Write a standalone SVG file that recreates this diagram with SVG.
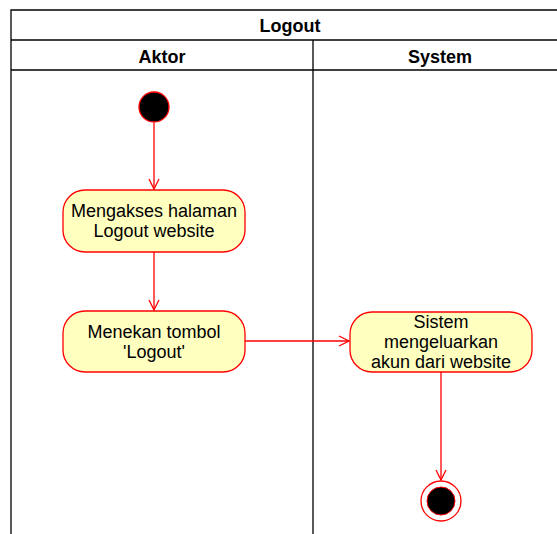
<svg xmlns="http://www.w3.org/2000/svg" width="557" height="534" viewBox="0 0 557 534">
  <style>
    .lane { fill: none; stroke: #000; stroke-width: 1.3; }
    .hdr { font-family: "Liberation Sans", Arial, sans-serif; font-size: 18px; font-weight: bold; fill: #000; text-anchor: middle; }
    .act { fill: #ffffc0; stroke: #ff0000; stroke-width: 1.3; }
    .lbl { font-family: "Liberation Sans", Arial, sans-serif; font-size: 18px; fill: #000; text-anchor: middle; }
    .flow { fill: none; stroke: #ff0000; stroke-width: 1.3; }
  </style>
  <defs>
    <marker id="arrow" viewBox="0 0 12 12" refX="11" refY="6" markerWidth="12" markerHeight="12" markerUnits="userSpaceOnUse" orient="auto">
      <path d="M1,1 L11,6 L1,11" fill="none" stroke="#ff0000" stroke-width="1.3"/>
    </marker>
  </defs>
  <rect width="557" height="534" fill="#fff"/>

  <!-- swimlane pool -->
  <g id="pool">
    <path class="lane" d="M11,534 V10 H560"/>
    <path class="lane" d="M11,40 H560 M11,70 H560 M313,40 V534"/>
    <text class="hdr" x="290" y="32">Logout</text>
    <text class="hdr" x="162" y="63">Aktor</text>
    <text class="hdr" x="440" y="63">System</text>
  </g>

  <!-- connectors -->
  <g id="connectors">
    <path class="flow" d="M154,123 V189" marker-end="url(#arrow)"/>
    <path class="flow" d="M154,252 V310" marker-end="url(#arrow)"/>
    <path class="flow" d="M245,341 H349" marker-end="url(#arrow)"/>
    <path class="flow" d="M441,372 V480" marker-end="url(#arrow)"/>
  </g>

  <g id="start">
    <circle cx="154" cy="107" r="15" fill="#000" stroke="#ff0000" stroke-width="1.3"/>
  </g>

  <g id="mengakses">
    <rect class="act" x="63" y="190" width="182" height="62" rx="22"/>
    <text class="lbl" x="154" y="217">Mengakses halaman</text>
    <text class="lbl" x="154" y="237">Logout website</text>
  </g>

  <g id="menekan">
    <rect class="act" x="63" y="311" width="182" height="61" rx="22"/>
    <text class="lbl" x="154" y="338">Menekan tombol</text>
    <text class="lbl" x="154" y="358">'Logout'</text>
  </g>

  <g id="sistem">
    <rect class="act" x="350" y="312" width="182" height="60" rx="22"/>
    <text class="lbl" x="441" y="328">Sistem</text>
    <text class="lbl" x="441" y="348">mengeluarkan</text>
    <text class="lbl" x="441" y="368">akun dari website</text>
  </g>

  <g id="end">
    <circle cx="441" cy="501" r="20" fill="#fff" stroke="#ff0000" stroke-width="1.3"/>
    <circle cx="441" cy="501" r="14" fill="#000" stroke="#ff0000" stroke-width="1"/>
  </g>
</svg>
